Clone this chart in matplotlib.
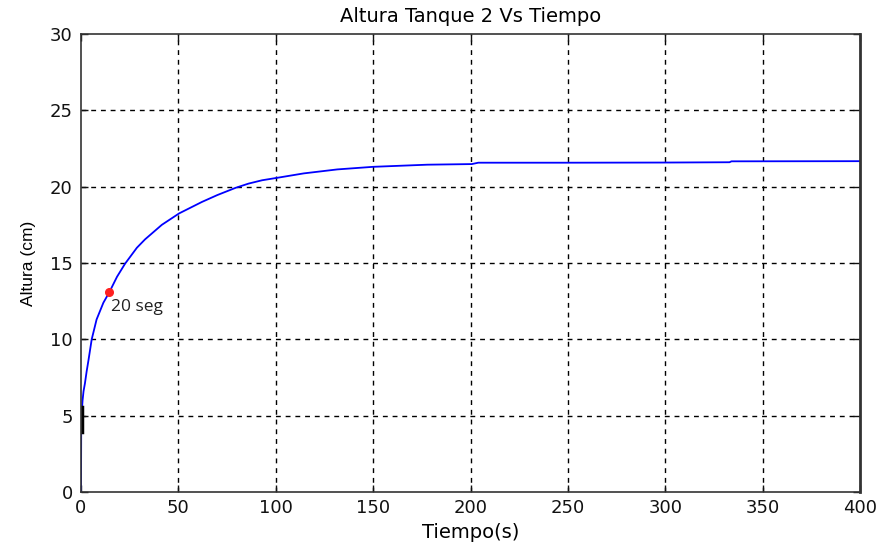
import matplotlib
matplotlib.use("Agg")
import matplotlib.pyplot as plt

# Data
tiempo = [0, 0.1, 0.4, 0.8, 1.3, 2.0, 2.9, 3.8, 5.5, 8.0, 11.5, 14.6, 18.5, 22.6, 28.7,
          32.9, 41.5, 50.4, 62.1, 70.0, 79.3, 86.0, 93.0, 99.8, 114.4, 131.6, 150.0,
          177.9, 200.7, 204.0, 250.0, 300.0, 333.0, 334.0, 400.0]
altura = [0, 3.9, 5.2, 6.0, 6.6, 7.1, 7.9, 8.6, 10.0, 11.3, 12.4, 13.1, 14.1, 14.95, 16.0,
          16.55, 17.5, 18.25, 19.0, 19.45, 19.92, 20.2, 20.42, 20.56, 20.87, 21.13, 21.3,
          21.44, 21.48, 21.57, 21.57, 21.58, 21.6, 21.66, 21.67]
marca_t = [0.4, 0.4]
marca_h = [3.9, 5.6]
punto_t = [14.6]
punto_h = [13.1]
punto_label = "20 seg"
xticks = [0, 50, 100, 150, 200, 250, 300, 350, 400]
yticks = [0, 5, 10, 15, 20, 25, 30]

fig = plt.figure(figsize=(8.86, 5.5), dpi=100)
ax = fig.add_axes([81/886, 58/550, (860-81)/886, (492-34)/550])

ax.plot(tiempo, altura, color=(0, 0, 1), lw=1.3, zorder=3)
ax.plot(marca_t, marca_h, color="black", lw=2.5, zorder=4)
ax.plot(punto_t, punto_h, "o", color="#ff2020", ms=5.5, zorder=5)
ax.text(punto_t[0] + 0.8, punto_h[0] - 0.95, punto_label, family="Open Sans",
        fontsize=12.5, color="#222222", va="center", ha="left")

ax.set_xlim(0, 400)
ax.set_ylim(0, 30)
ax.set_xticks(xticks)
ax.set_yticks(yticks)
ax.tick_params(direction="in", length=5, width=1, top=True, right=True,
               labelsize=13, colors="#111111")
ax.tick_params(axis="x", pad=5)
ax.tick_params(axis="y", pad=6)
for lab in ax.get_xticklabels() + ax.get_yticklabels():
    lab.set_family("DejaVu Sans")
ax.grid(True, color="black", linestyle=(0, (3.5, 3.5)), lw=1)
xg = ax.xaxis.get_gridlines()
yg = ax.yaxis.get_gridlines()
for g in (xg[0], xg[-1], yg[0], yg[-1]):
    g.set_visible(False)
for s in ax.spines.values():
    s.set_color("#333333")
    s.set_linewidth(1.2)
    s.set_zorder(6)
ax.spines["right"].set_linewidth(2)

ax.set_title("Altura Tanque 2 Vs Tiempo", family="DejaVu Sans", fontsize=14, pad=9)
ax.set_xlabel("Tiempo(s)", family="DejaVu Sans", fontsize=14, labelpad=4)
ax.set_ylabel("Altura (cm)", family="Liberation Sans", fontsize=12.5, labelpad=10)

fig.savefig("out.png", dpi=100)
